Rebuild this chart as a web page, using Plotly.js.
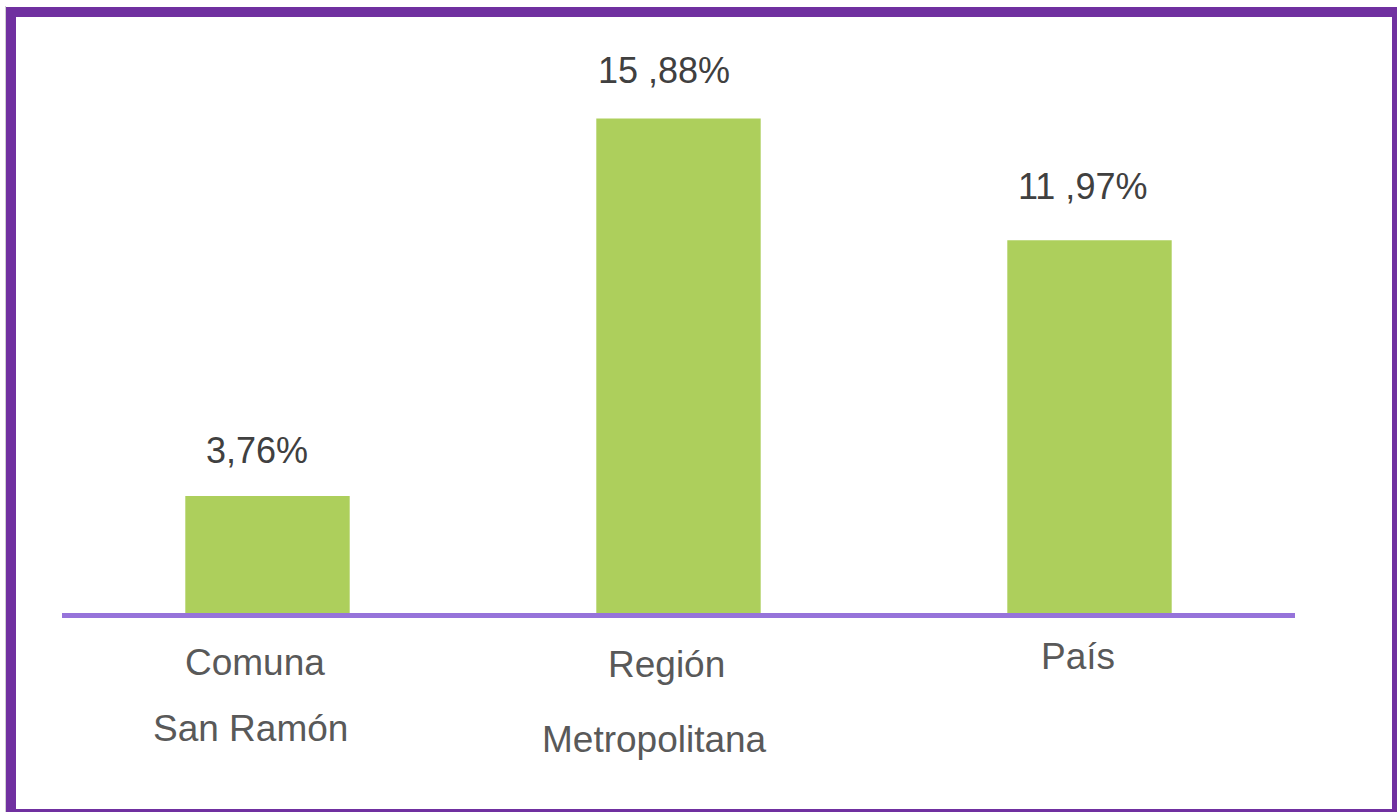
<!DOCTYPE html>
<html>
<head>
<meta charset="utf-8">
<script src="https://cdn.plot.ly/plotly-3.0.1.min.js"></script>
<style>
  html, body { margin: 0; padding: 0; overflow: hidden; background: #ffffff; }
  #wrap { position: relative; width: 1397px; height: 812px; overflow: hidden; }
  #chart { position: absolute; left: 0; top: 0; width: 1397px; height: 812px; }
  #frame { position: absolute; left: 6px; top: 7px; width: 1396px; height: 812px;
           box-sizing: border-box; border: 10px solid #7030A0; pointer-events: none; }
  #edge { position: absolute; left: 5px; top: 6px; width: 1px; height: 806px; background: #d0d0d0; }
</style>
</head>
<body>
<div id="wrap">
  <div id="chart"></div>
  <div id="edge"></div>
  <div id="frame"></div>
</div>
<script>
// Data
const categories = ["Comuna San Ramón", "Región Metropolitana", "País"];
const values = [3.76, 15.88, 11.97];
const valueLabels = ["3,76%", "15 ,88%", "11 ,97%"];
const catLine1 = ["Comuna", "Región", "País"];
const catLine2 = ["San Ramón", "Metropolitana", ""];

// Label placement (style only)
const valueShiftX = [-11, -15, -7];
const valueShiftY = [45, 48, 54];
const line1Shift = [[-13, -49], [-12, -51], [-12, -43]];
const line2Shift = [[-17, -115], [-24, -126], [0, 0]];

const fontFamily = "'Liberation Sans', Arial, sans-serif";

const annotations = [];
categories.forEach((c, i) => {
  annotations.push({
    x: c, y: values[i], xref: 'x', yref: 'y',
    text: valueLabels[i], showarrow: false,
    xanchor: 'center', yanchor: 'middle',
    xshift: valueShiftX[i], yshift: valueShiftY[i],
    font: { family: fontFamily, size: 36, color: '#404040' }
  });
  annotations.push({
    x: c, y: 0, xref: 'x', yref: 'y',
    text: catLine1[i], showarrow: false,
    xanchor: 'center', yanchor: 'middle',
    xshift: line1Shift[i][0], yshift: line1Shift[i][1],
    font: { family: fontFamily, size: 37, color: '#595959' }
  });
  if (catLine2[i]) {
    annotations.push({
      x: c, y: 0, xref: 'x', yref: 'y',
      text: catLine2[i], showarrow: false,
      xanchor: 'center', yanchor: 'middle',
      xshift: line2Shift[i][0], yshift: line2Shift[i][1],
      font: { family: fontFamily, size: 37, color: '#595959' }
    });
  }
});

const trace = {
  type: 'bar',
  x: categories,
  y: values,
  width: 0.4,
  marker: { color: '#ADCF5C' },
  hoverinfo: 'skip'
};

const layout = {
  width: 1397,
  height: 812,
  margin: { l: 62, r: 102, t: 30, b: 199 },
  paper_bgcolor: '#ffffff',
  plot_bgcolor: '#ffffff',
  showlegend: false,
  bargap: 0.6,
  xaxis: {
    type: 'category',
    range: [-0.5, 2.5],
    showticklabels: false,
    ticks: '',
    showgrid: false,
    zeroline: false,
    showline: true,
    linecolor: '#9673DA',
    linewidth: 5
  },
  yaxis: {
    range: [0, 18.72],
    visible: false,
    showgrid: false,
    zeroline: false
  },
  annotations: annotations
};

Plotly.newPlot('chart', [trace], layout, { displayModeBar: false, staticPlot: true });
</script>
</body>
</html>
